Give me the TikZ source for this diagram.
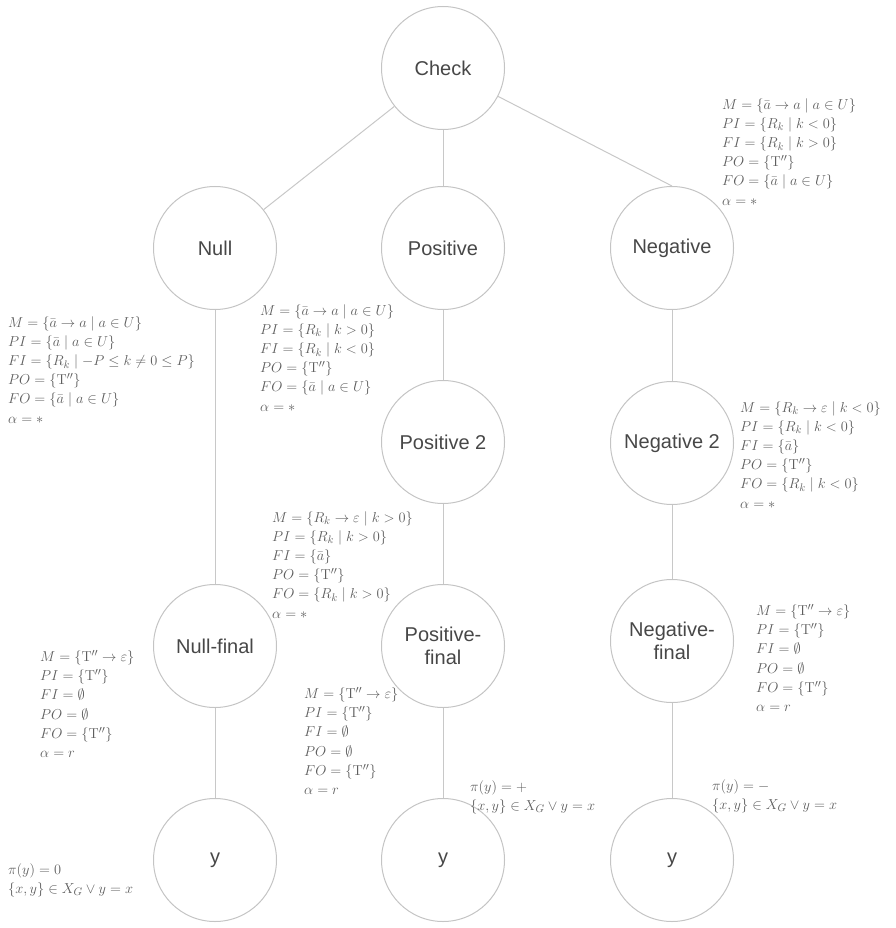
\documentclass[tikz,border=0pt]{standalone}
\usepackage[no-math]{fontspec}
\setmainfont{Liberation Sans}
\definecolor{ringc}{HTML}{C4C4C4}
\definecolor{edgec}{HTML}{C8C8C8}
\definecolor{namec}{HTML}{474747}
\definecolor{mathc}{HTML}{5E5E5E}
\begin{document}
\begin{tikzpicture}[x=1pt,y=-1pt,
  state/.style={circle,draw=ringc,line width=1pt,minimum size=123pt,inner sep=0pt,
    text=namec,font=\fontsize{20}{23}\selectfont,align=center},
  lbl/.style={anchor=north west,inner sep=0pt,align=left,text=mathc,
    font=\fontsize{15.5}{19.2}\selectfont},
  conn/.style={draw=edgec,line width=1pt}]
\useasboundingbox (0,0) rectangle (895,928);
\node[state] (check) at (443,68) {Check};
\node[state] (null) at (215,248) {Null};
\node[state] (pos) at (443,248) {Positive};
\node[state] (neg) at (672,248) {Negative};
\node[state] (pos2) at (443,442) {Positive 2};
\node[state] (neg2) at (672,443) {Negative 2};
\node[state] (nullf) at (215,646) {Null-final};
\node[state] (posf) at (443,646) {Positive-\\final};
\node[state] (negf) at (672,641) {Negative-\\final};
\node[state] (y1) at (215,860) {y};
\node[state] (y2) at (443,860) {y};
\node[state] (y3) at (672,860) {y};
\draw[conn] (check) -- (null);
\draw[conn] (check) -- (pos);
\draw[conn] (check) -- (neg.north);
\draw[conn] (null) -- (nullf);
\draw[conn] (nullf) -- (y1);
\draw[conn] (pos) -- (pos2);
\draw[conn] (pos2) -- (posf);
\draw[conn] (posf) -- (y2);
\draw[conn] (neg) -- (neg2);
\draw[conn] (neg2) -- (negf);
\draw[conn] (negf) -- (y3);
\node[lbl] (tnull) at (8,316) {$M=\{\bar a\to a\mid a\in U\}$\\$PI=\{\bar a\mid a\in U\}$\\$FI=\{R_k\mid -P\le k\ne 0\le P\}$\\$PO=\{\mathrm{T}''\}$\\$FO=\{\bar a\mid a\in U\}$\\$\alpha=*$};
\node[lbl] (tpos) at (260,304) {$M=\{\bar a\to a\mid a\in U\}$\\$PI=\{R_k\mid k>0\}$\\$FI=\{R_k\mid k<0\}$\\$PO=\{\mathrm{T}''\}$\\$FO=\{\bar a\mid a\in U\}$\\$\alpha=*$};
\node[lbl] (tneg) at (722,98) {$M=\{\bar a\to a\mid a\in U\}$\\$PI=\{R_k\mid k<0\}$\\$FI=\{R_k\mid k>0\}$\\$PO=\{\mathrm{T}''\}$\\$FO=\{\bar a\mid a\in U\}$\\$\alpha=*$};
\node[lbl] (tneg2) at (740,401) {$M=\{R_k\to\varepsilon\mid k<0\}$\\$PI=\{R_k\mid k<0\}$\\$FI=\{\bar a\}$\\$PO=\{\mathrm{T}''\}$\\$FO=\{R_k\mid k<0\}$\\$\alpha=*$};
\node[lbl] (tpos2) at (272,511) {$M=\{R_k\to\varepsilon\mid k>0\}$\\$PI=\{R_k\mid k>0\}$\\$FI=\{\bar a\}$\\$PO=\{\mathrm{T}''\}$\\$FO=\{R_k\mid k>0\}$\\$\alpha=*$};
\node[lbl] (tnullf) at (40,650) {$M=\{\mathrm{T}''\to\varepsilon\}$\\$PI=\{\mathrm{T}''\}$\\$FI=\emptyset$\\$PO=\emptyset$\\$FO=\{\mathrm{T}''\}$\\$\alpha=r$};
\node[lbl] (tposf) at (304,687) {$M=\{\mathrm{T}''\to\varepsilon\}$\\$PI=\{\mathrm{T}''\}$\\$FI=\emptyset$\\$PO=\emptyset$\\$FO=\{\mathrm{T}''\}$\\$\alpha=r$};
\node[lbl] (tnegf) at (756,604) {$M=\{\mathrm{T}''\to\varepsilon\}$\\$PI=\{\mathrm{T}''\}$\\$FI=\emptyset$\\$PO=\emptyset$\\$FO=\{\mathrm{T}''\}$\\$\alpha=r$};
\node[lbl] (ty1) at (8,863) {$\pi(y)=0$\\$\{x,y\}\in X_G\vee y=x$};
\node[lbl] (ty2) at (470,780) {$\pi(y)=+$\\$\{x,y\}\in X_G\vee y=x$};
\node[lbl] (ty3) at (712,779) {$\pi(y)=-$\\$\{x,y\}\in X_G\vee y=x$};
\end{tikzpicture}
\end{document}
